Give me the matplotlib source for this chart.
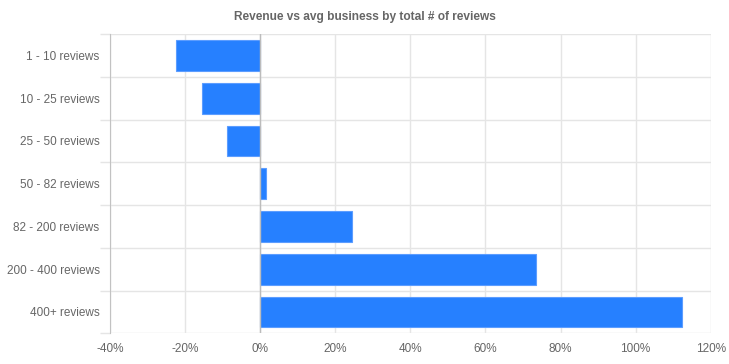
import numpy as np
import matplotlib
matplotlib.use('Agg')
import matplotlib.pyplot as plt
from matplotlib.ticker import FuncFormatter, FixedLocator

plt.rcParams['font.family'] = ['Liberation Sans', 'DejaVu Sans']

categories = ['1 - 10 reviews', '10 - 25 reviews', '25 - 50 reviews', '50 - 82 reviews',
              '82 - 200 reviews', '200 - 400 reviews', '400+ reviews']
values = [-22.5, -15.5, -8.9, 1.5, 24.5, 73.5, 112.3]
x_ticks = [-40, -20, 0, 20, 40, 60, 80, 100, 120]

fig = plt.figure(figsize=(7.29, 3.64), dpi=100)
ax = fig.add_axes([110 / 729, (364 - 333.3) / 364, 600.7 / 729, 299.3 / 364])

y = np.arange(len(categories))
ax.barh(y, values, height=0.72, color='#2680ff', edgecolor='#5c9dff', linewidth=0.8, zorder=3)

ax.set_xlim(-40, 120)
ax.set_ylim(len(categories) - 0.5, -0.5)
ax.set_xticks(x_ticks)
ax.xaxis.set_major_formatter(FuncFormatter(lambda v, p: '%d%%' % v))
ax.set_yticks(y)
ax.set_yticklabels(categories)
ax.yaxis.set_minor_locator(FixedLocator(np.arange(len(categories) + 1) - 0.5))

# grid lines between categories, like the original
ax.grid(axis='x', which='major', color='#e5e5e5', linewidth=1, zorder=0)
ax.grid(axis='y', which='minor', color='#e5e5e5', linewidth=1, zorder=0)
ax.tick_params(axis='y', which='major', length=0, pad=7.5, labelsize=8.5, labelcolor='#666666')
ax.tick_params(axis='y', which='minor', length=7.5, width=1, color='#e5e5e5')
ax.tick_params(axis='x', which='major', length=0, pad=7, labelsize=8.5, labelcolor='#666666')

for s in ['top', 'right', 'bottom']:
    ax.spines[s].set_visible(False)
ax.spines['left'].set_color('#c2c2c2')
ax.axvline(0, color='#bcbcbc', linewidth=1, zorder=4)

fig.text(365 / 729, 1 - 17 / 364, 'Revenue vs avg business by total # of reviews',
         ha='center', va='center', fontsize=8.6, fontweight='bold', color='#666666')

fig.savefig('out.png', dpi=100)
